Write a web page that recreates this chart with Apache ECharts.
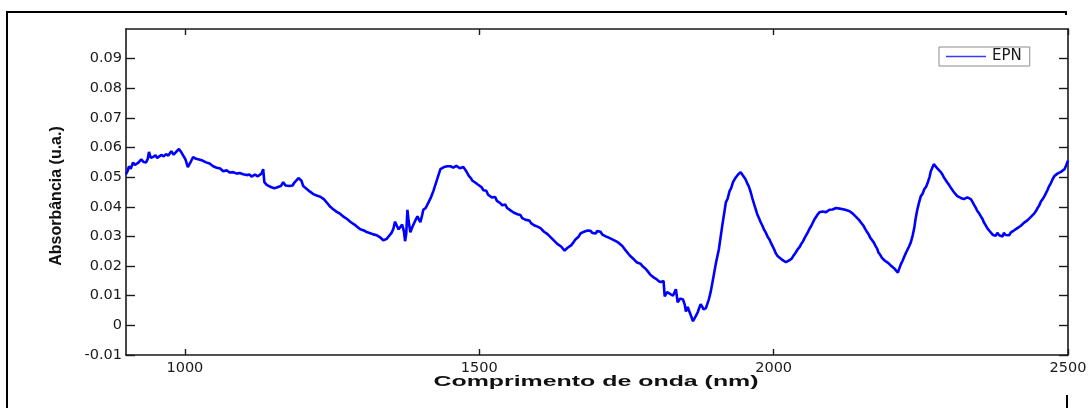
<!DOCTYPE html>
<html>
<head>
<meta charset="utf-8">
<script src="https://cdn.jsdelivr.net/npm/echarts@6/dist/echarts.min.js"></script>
<style>
  html, body { margin: 0; padding: 0; background: #fff; }
  #chart { width: 1091px; height: 408px; }
</style>
</head>
<body>
<div id="chart"></div>
<script>
// NIR absorbance spectrum of sample EPN: [wavelength (nm), absorbance (u.a.)]
const epnSpectrum = [
  [900,0.0510],[903,0.0522],[905,0.0537],[908,0.0528],[912,0.0550],[915,0.0541],[917,0.0537],[921,0.0549],
  [926,0.0560],[930,0.0551],[934,0.0550],[937,0.0562],[939,0.0585],[942,0.0566],[946,0.0568],[950,0.0574],
  [953,0.0565],[956,0.0568],[960,0.0575],[964,0.0570],[968,0.0578],[972,0.0573],[977,0.0588],[981,0.0576],
  [985,0.0585],[988,0.0580],[990,0.0595],[994,0.0584],[997,0.0578],[1001,0.0560],[1005,0.0534],[1009,0.0548],
  [1014,0.0568],[1019,0.0562],[1024,0.0560],[1027,0.0563],[1030,0.0556],[1033,0.0558],[1036,0.0550],[1039,0.0552],
  [1042,0.0546],[1045,0.0544],[1048,0.0537],[1051,0.0539],[1054,0.0532],[1057,0.0534],[1060,0.0529],[1063,0.0524],
  [1065,0.0520],[1068,0.0526],[1071,0.0523],[1074,0.0518],[1076,0.0516],[1079,0.0520],[1082,0.0517],[1085,0.0511],
  [1088,0.0512],[1091,0.0517],[1093,0.0514],[1096,0.0508],[1099,0.0510],[1102,0.0512],[1105,0.0507],[1108,0.0504],
  [1110,0.0509],[1113,0.0502],[1116,0.0504],[1119,0.0509],[1121,0.0507],[1124,0.0503],[1126,0.0506],[1130,0.0512],
  [1133,0.0527],[1135,0.0483],[1139,0.0474],[1141,0.0478],[1143,0.0470],[1147,0.0466],[1150,0.0469],[1152,0.0463],
  [1156,0.0465],[1159,0.0460],[1163,0.0470],[1167,0.0483],[1171,0.0472],[1174,0.0466],[1177,0.0470],[1180,0.0474],
  [1183,0.0472],[1186,0.0482],[1189,0.0486],[1193,0.0497],[1196,0.0492],[1198,0.0488],[1201,0.0470],[1204,0.0466],
  [1206,0.0462],[1209,0.0458],[1212,0.0452],[1215,0.0449],[1218,0.0443],[1221,0.0446],[1224,0.0438],[1227,0.0440],
  [1230,0.0434],[1233,0.0432],[1236,0.0426],[1239,0.0420],[1242,0.0412],[1245,0.0408],[1247,0.0400],[1250,0.0398],
  [1252,0.0392],[1255,0.0390],[1258,0.0383],[1261,0.0384],[1264,0.0376],[1267,0.0372],[1270,0.0366],[1273,0.0364],
  [1276,0.0358],[1279,0.0354],[1282,0.0348],[1285,0.0346],[1288,0.0340],[1291,0.0337],[1293,0.0332],[1296,0.0330],
  [1298,0.0324],[1301,0.0325],[1304,0.0320],[1307,0.0316],[1310,0.0314],[1313,0.0316],[1315,0.0311],[1318,0.0312],
  [1320,0.0307],[1323,0.0309],[1326,0.0304],[1329,0.0304],[1331,0.0298],[1334,0.0295],[1337,0.0287],[1340,0.0289],
  [1343,0.0292],[1346,0.0300],[1351,0.0312],[1354,0.0325],[1357,0.0350],[1360,0.0336],[1363,0.0324],[1366,0.0332],
  [1369,0.0340],[1372,0.0318],[1374,0.0284],[1376,0.0310],[1378,0.0390],[1380,0.0352],[1383,0.0314],[1386,0.0330],
  [1388,0.0335],[1391,0.0352],[1395,0.0368],[1398,0.0355],[1400,0.0348],[1403,0.0372],[1405,0.0390],[1409,0.0396],
  [1414,0.0416],[1418,0.0432],[1422,0.0453],[1428,0.0490],[1434,0.0527],[1440,0.0534],[1446,0.0537],[1451,0.0537],
  [1456,0.0532],[1461,0.0538],[1464,0.0533],[1467,0.0530],[1470,0.0536],[1473,0.0534],[1478,0.0520],[1482,0.0505],
  [1486,0.0496],[1488,0.0489],[1490,0.0492],[1493,0.0482],[1497,0.0476],[1500,0.0470],[1504,0.0466],[1507,0.0456],
  [1510,0.0450],[1512,0.0454],[1515,0.0441],[1518,0.0443],[1521,0.0432],[1524,0.0428],[1527,0.0433],[1530,0.0420],
  [1533,0.0418],[1536,0.0412],[1539,0.0405],[1541,0.0402],[1544,0.0408],[1547,0.0397],[1550,0.0394],[1553,0.0388],
  [1556,0.0391],[1559,0.0380],[1562,0.0378],[1565,0.0375],[1568,0.0369],[1570,0.0372],[1573,0.0362],[1576,0.0360],
  [1579,0.0356],[1582,0.0350],[1585,0.0354],[1588,0.0345],[1591,0.0342],[1593,0.0338],[1596,0.0340],[1599,0.0333],
  [1602,0.0332],[1604,0.0328],[1607,0.0324],[1610,0.0316],[1613,0.0318],[1616,0.0308],[1619,0.0304],[1621,0.0298],
  [1624,0.0294],[1627,0.0286],[1630,0.0280],[1633,0.0274],[1636,0.0269],[1639,0.0266],[1642,0.0260],[1645,0.0252],
  [1647,0.0257],[1650,0.0262],[1653,0.0266],[1656,0.0270],[1660,0.0280],[1663,0.0289],[1666,0.0294],[1669,0.0300],
  [1672,0.0310],[1675,0.0306],[1678,0.0316],[1681,0.0311],[1684,0.0320],[1687,0.0314],[1689,0.0319],[1692,0.0312],
  [1695,0.0318],[1698,0.0310],[1700,0.0318],[1703,0.0312],[1706,0.0316],[1709,0.0306],[1712,0.0310],[1715,0.0300],
  [1717,0.0303],[1720,0.0296],[1723,0.0299],[1726,0.0290],[1729,0.0293],[1732,0.0284],[1734,0.0287],[1737,0.0278],
  [1740,0.0281],[1743,0.0268],[1746,0.0262],[1749,0.0252],[1751,0.0250],[1754,0.0240],[1757,0.0233],[1760,0.0230],
  [1763,0.0222],[1766,0.0220],[1768,0.0212],[1771,0.0214],[1774,0.0208],[1777,0.0200],[1780,0.0196],[1783,0.0190],
  [1786,0.0183],[1789,0.0178],[1791,0.0170],[1794,0.0168],[1796,0.0162],[1799,0.0164],[1801,0.0156],[1803,0.0152],
  [1805,0.0149],[1809,0.0146],[1813,0.0150],[1815,0.0098],[1819,0.0112],[1822,0.0108],[1825,0.0105],[1829,0.0100],
  [1834,0.0122],[1837,0.0078],[1841,0.0090],[1846,0.0088],[1849,0.0070],[1851,0.0047],[1854,0.0062],[1856,0.0060],
  [1859,0.0036],[1863,0.0014],[1866,0.0020],[1868,0.0032],[1871,0.0044],[1876,0.0071],[1879,0.0062],[1881,0.0054],
  [1885,0.0058],[1888,0.0060],[1890,0.0088],[1893,0.0112],[1898,0.0166],[1902,0.0210],[1907,0.0257],[1913,0.0340],
  [1919,0.0416],[1922,0.0428],[1925,0.0452],[1928,0.0464],[1931,0.0483],[1935,0.0497],[1938,0.0494],[1940,0.0510],
  [1944,0.0517],[1947,0.0508],[1949,0.0502],[1952,0.0494],[1955,0.0480],[1958,0.0468],[1961,0.0450],[1964,0.0428],
  [1967,0.0408],[1972,0.0376],[1975,0.0362],[1978,0.0348],[1981,0.0336],[1984,0.0322],[1987,0.0312],[1990,0.0298],
  [1993,0.0290],[1995,0.0280],[1998,0.0268],[2001,0.0256],[2004,0.0242],[2007,0.0233],[2010,0.0228],[2014,0.0222],
  [2017,0.0218],[2021,0.0213],[2024,0.0216],[2027,0.0220],[2031,0.0226],[2034,0.0236],[2037,0.0244],[2041,0.0257],
  [2044,0.0264],[2047,0.0275],[2050,0.0284],[2053,0.0296],[2056,0.0302],[2058,0.0314],[2061,0.0326],[2064,0.0336],
  [2067,0.0342],[2070,0.0360],[2073,0.0366],[2075,0.0375],[2078,0.0382],[2080,0.0385],[2083,0.0384],[2086,0.0384],
  [2089,0.0382],[2092,0.0388],[2095,0.0390],[2097,0.0385],[2100,0.0391],[2103,0.0394],[2106,0.0396],[2109,0.0399],
  [2112,0.0394],[2115,0.0396],[2118,0.0392],[2120,0.0394],[2123,0.0389],[2126,0.0390],[2129,0.0385],[2131,0.0382],
  [2134,0.0378],[2137,0.0372],[2140,0.0366],[2142,0.0360],[2145,0.0356],[2148,0.0348],[2151,0.0342],[2153,0.0335],
  [2156,0.0324],[2159,0.0314],[2162,0.0305],[2164,0.0296],[2167,0.0288],[2170,0.0280],[2173,0.0268],[2176,0.0258],
  [2178,0.0246],[2181,0.0238],[2184,0.0228],[2186,0.0223],[2189,0.0218],[2192,0.0213],[2195,0.0210],[2197,0.0205],
  [2200,0.0200],[2203,0.0196],[2206,0.0190],[2208,0.0184],[2211,0.0178],[2213,0.0172],[2216,0.0206],[2219,0.0218],
  [2222,0.0232],[2225,0.0246],[2227,0.0254],[2230,0.0266],[2233,0.0280],[2236,0.0302],[2239,0.0330],[2241,0.0358],
  [2244,0.0390],[2247,0.0414],[2250,0.0436],[2253,0.0444],[2256,0.0460],[2259,0.0468],[2262,0.0483],[2265,0.0502],
  [2267,0.0520],[2270,0.0534],[2272,0.0544],[2275,0.0538],[2278,0.0530],[2281,0.0526],[2284,0.0517],[2287,0.0508],
  [2289,0.0500],[2292,0.0494],[2295,0.0482],[2298,0.0474],[2301,0.0464],[2304,0.0458],[2306,0.0450],[2309,0.0444],
  [2312,0.0436],[2315,0.0434],[2318,0.0430],[2320,0.0433],[2323,0.0426],[2326,0.0428],[2329,0.0432],[2332,0.0430],
  [2335,0.0426],[2338,0.0416],[2340,0.0408],[2343,0.0398],[2346,0.0386],[2349,0.0378],[2352,0.0368],[2355,0.0358],
  [2357,0.0348],[2360,0.0338],[2363,0.0328],[2366,0.0320],[2369,0.0314],[2372,0.0306],[2374,0.0310],[2377,0.0302],
  [2380,0.0312],[2383,0.0304],[2386,0.0308],[2389,0.0300],[2391,0.0312],[2394,0.0305],[2397,0.0310],[2400,0.0304],
  [2403,0.0314],[2406,0.0312],[2408,0.0320],[2411,0.0318],[2414,0.0328],[2417,0.0324],[2420,0.0336],[2423,0.0334],
  [2425,0.0346],[2428,0.0342],[2431,0.0354],[2434,0.0350],[2437,0.0366],[2440,0.0364],[2442,0.0376],[2445,0.0384],
  [2448,0.0395],[2451,0.0404],[2454,0.0418],[2457,0.0426],[2460,0.0436],[2463,0.0448],[2465,0.0456],[2468,0.0470],
  [2471,0.0480],[2474,0.0494],[2477,0.0504],[2480,0.0508],[2482,0.0512],[2485,0.0514],[2488,0.0518],[2491,0.0522],
  [2494,0.0527],[2497,0.0540],[2500,0.0556]
];

const seriesName = 'EPN';
const xTicks = [1000, 1500, 2000, 2500];
const yTicks = [-0.01, 0, 0.01, 0.02, 0.03, 0.04, 0.05, 0.06, 0.07, 0.08, 0.09];
const xTitle = 'Comprimento de onda (nm)';
const yTitle = 'Absorbância (u.a.)';

const axisColor = '#1a1a1a';
const labelFont = { fontFamily: 'DejaVu Sans', fontSize: 14.5, color: '#1a1a1a' };

function xLabel(v) {
  return String(Math.round(v));
}
function yLabel(v) {
  if (Math.abs(v) < 1e-9) return '0';
  return v.toFixed(2);
}

const chart = echarts.init(document.getElementById('chart'), null, { renderer: 'canvas' });

chart.setOption({
  backgroundColor: '#ffffff',
  animation: false,
  grid: { left: 126, right: 23, top: 29, bottom: 53, containLabel: false },
  legend: {
    data: [{ name: seriesName, icon: 'rect' }],
    left: 939,
    top: 47,
    orient: 'horizontal',
    padding: [2, 8, 2, 7],
    itemWidth: 40,
    itemHeight: 1.5,
    itemGap: 4,
    borderColor: '#8c8c8c',
    borderWidth: 1,
    borderRadius: 0,
    backgroundColor: '#ffffff',
    itemStyle: { color: '#3a3aff' },
    textStyle: { fontFamily: 'DejaVu Sans', fontSize: 15, color: '#1a1a1a', padding: [0, 0, 0, 1] }
  },
  xAxis: [
    {
      type: 'value', position: 'bottom', min: 900, max: 2500,
      axisLine: { show: true, onZero: false, lineStyle: { color: axisColor, width: 1.6 } },
      axisTick: { show: true, inside: true, length: 6, customValues: xTicks, lineStyle: { color: axisColor, width: 1.4 } },
      axisLabel: { show: true, customValues: xTicks, margin: 6, formatter: xLabel, ...labelFont },
      splitLine: { show: false }
    },
    {
      type: 'value', position: 'top', min: 900, max: 2500,
      axisLine: { show: true, onZero: false, lineStyle: { color: axisColor, width: 1.6 } },
      axisTick: { show: true, inside: true, length: 6, customValues: xTicks, lineStyle: { color: axisColor, width: 1.4 } },
      axisLabel: { show: false },
      splitLine: { show: false }
    }
  ],
  yAxis: [
    {
      type: 'value', position: 'left', min: -0.01, max: 0.1,
      axisLine: { show: true, onZero: false, lineStyle: { color: axisColor, width: 1.6 } },
      axisTick: { show: true, inside: true, length: 9, customValues: yTicks, lineStyle: { color: axisColor, width: 1.4 } },
      axisLabel: { show: true, customValues: yTicks, margin: 4, formatter: yLabel, ...labelFont },
      splitLine: { show: false }
    },
    {
      type: 'value', position: 'right', min: -0.01, max: 0.1,
      axisLine: { show: true, onZero: false, lineStyle: { color: axisColor, width: 1.6 } },
      axisTick: { show: true, inside: true, length: 9, customValues: yTicks, lineStyle: { color: axisColor, width: 1.4 } },
      axisLabel: { show: false },
      splitLine: { show: false }
    }
  ],
  series: [
    {
      name: seriesName,
      type: 'line',
      xAxisIndex: 0,
      yAxisIndex: 0,
      data: epnSpectrum,
      symbol: 'none',
      smooth: false,
      lineStyle: { color: '#0000ff', width: 2.6 },
      itemStyle: { color: '#0000ff' }
    }
  ],
  graphic: [
    // outer figure frame (open on the right side)
    {
      type: 'polyline',
      shape: { points: [[7, 408], [7, 12], [1066, 12], [1066, 15]] },
      style: { stroke: '#000', lineWidth: 2, fill: null },
      silent: true
    },
    {
      type: 'line',
      shape: { x1: 1067, y1: 395, x2: 1067, y2: 408 },
      style: { stroke: '#000', lineWidth: 2 },
      silent: true
    },
    // axis titles
    {
      type: 'text',
      x: 57, y: 196,
      rotation: Math.PI / 2,
      style: {
        text: yTitle,
        font: 'bold 16px "Liberation Sans", Arial, sans-serif',
        fill: '#111',
        align: 'center',
        verticalAlign: 'middle'
      },
      silent: true
    },
    {
      type: 'text',
      x: 596, y: 382,
      scaleX: 1.66,
      style: {
        text: xTitle,
        font: 'bold 15px "Liberation Sans", Arial, sans-serif',
        fill: '#111',
        align: 'center',
        verticalAlign: 'middle'
      },
      silent: true
    }
  ]
});
</script>
</body>
</html>
